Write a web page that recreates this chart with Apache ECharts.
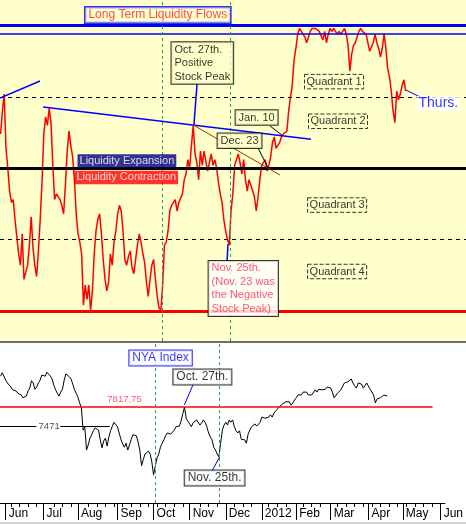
<!DOCTYPE html>
<html><head><meta charset="utf-8">
<script src="https://cdn.jsdelivr.net/npm/echarts@6/dist/echarts.min.js"></script>
<style>html,body{margin:0;padding:0;background:#fff}#c{width:466px;height:524px}</style>
</head><body><div id="c"></div>
<script>
// ---- axis / categories (trading-day index, 0 = 1 Jun 2011) ----
const monthNames = ['Jun','Jul','Aug','Sep','Oct','Nov','Dec','2012','Feb','Mar','Apr','May','Jun'];
const monthStartDay = [0,22,42,65,86,107,128,149,169,189,211,231,253];
const firstDay = -3;
const axisMin = -3.33, axisMax = 255.5;

// ---- Long Term Liquidity Flows (0..100 oscillator), one value per trading day ----
const liquidity = [
 62,70,76,57,50,42,38,39,32,26,
 20,16,27,11,11,16,23,33,22,16,
 12,21,32,45,62,68,65,71,66,51,
 39,41,41,39,37,34,44,56,63,58,
 54,46,34,27,24,20,2,9,4,9,
 0,7,20,28,32,34,27,18,11,7,
 10,20,16,24,28,34,37,35,28,18,
 16,19,21,15,13,18,23,27,24,20,
 17,10,5,11,16,18,11,5,1,0,
 9,23,24,28,35,37,37,39,35,38,
 38,41,46,48,53,50,58,65,55,52,
 46,56,51,56,56,49,52,55,51,53,
 50,45,41,38,32,28,25,23,35,41,
 51,51,55,52,48,53,46,42,46,44,
 42,40,35,40,46,51,51,53,49,51,
 54,59,61,57,58,59,61,62,62,63,
 70,75,79,88,92,97,99,98,98,96,
 94,96,98,99,99,99,99,98,98,95,
 98,94,97,99,98,99,98,97,98,97,
 98,99,97,93,84,90,93,94,96,98,
 99,98,98,97,94,91,91,94,97,94,
 92,89,92,97,92,85,82,77,70,66,
 77,74,76,79,81,77
];

// ---- NYA Index closes ----
const nyaIndex = [
 8360,8420,8450,8290,8240,8260,8170,8120,8130,8100,
 8060,8080,8030,7980,7960,8010,8100,8150,8280,8240,
 8130,8170,8240,8290,8380,8400,8360,8430,8450,8360,
 8310,8200,8120,8060,8010,8080,8130,8290,8400,8400,
 8350,8310,8220,8120,8060,7990,7890,7800,7410,7470,
 7060,7150,7270,7330,7400,7450,7470,7410,7240,7100,
 7220,7270,7130,7290,7400,7480,7550,7570,7470,7360,
 7250,7170,7110,7180,7060,7150,7250,7330,7330,7310,
 7200,7060,6780,6890,6990,6970,7040,6990,6850,6620,
 6780,6920,6990,7110,7180,7240,7310,7360,7330,7340,
 7310,7410,7470,7480,7480,7570,7700,7818,7610,7640,
 7520,7470,7540,7570,7590,7620,7500,7540,7590,7540,
 7470,7360,7290,7240,7110,7060,6990,6940,7180,7410,
 7500,7550,7500,7590,7550,7590,7470,7400,7360,7400,
 7250,7270,7240,7180,7340,7410,7470,7470,7520,7480,
 7500,7550,7640,7610,7620,7590,7640,7680,7640,7710,
 7730,7780,7820,7840,7870,7870,7910,7890,7910,7850,
 7890,7940,7980,8030,8050,8030,8080,8080,8080,8030,
 8060,8030,8060,8120,8080,8130,8150,8120,8130,8130,
 8170,8150,8150,8080,7980,7990,8060,8080,8120,8120,
 8240,8240,8260,8280,8310,8240,8190,8150,8240,8260,
 8220,8150,8130,8240,8240,8130,8100,8030,7890,7960,
 7990,7980,7990,8030,8060,8010
];

// ---- reference levels ----
const liqTop = 100, liqTopInner = 97, liqQ12 = 75, liqMid = 50, liqQ34 = 25, liqBottom = 0;
const nyaRef = 7817.75, nyaRefLabel = '7817.75';
const nyaSupport = 7471, nyaSupportLabel = '7471';
const markerDays = [86.7, 124.4];   // green dashed verticals (Oct low, Nov. 25th)

const FONT = "'Liberation Sans', Arial, sans-serif";
const liqData = liquidity.map((v, i) => [firstDay + i, v]);
const nyaData = nyaIndex.map((v, i) => [firstDay + i, v]);
const weekTicks = [];
for (let d = 3; d < axisMax; d += 5) {
  if (!monthStartDay.some(m => Math.abs(m - d) < 1.5)) weekTicks.push(d);
}

function box(x, y, text, o) {
  return {
    value: [x, y],
    label: Object.assign({
      show: true, position: [0, 0], align: 'left', verticalAlign: 'middle',
      formatter: text, fontSize: 11, fontFamily: FONT, color: '#000',
      lineHeight: 13.5, padding: [1, 3, 0, 3]
    }, o || {})
  };
}

const topAnn = [
  box(44.4, 103.6, 'Long Term Liquidity Flows', {fontSize:12, lineHeight:14, color:'#FF1A3C', backgroundColor:'#FFFFCC', borderColor:'#0000FF', borderWidth:1.5}),
  box(92.2, 86.7, 'Oct. 27th.\nPositive\nStock Peak', {backgroundColor:'#FFFFCC', borderColor:'#000', borderWidth:1}),
  box(127.8, 67.6, 'Jan. 10', {backgroundColor:'#FFFFCC', borderColor:'#000', borderWidth:1}),
  box(117.8, 59.5, 'Dec. 23', {backgroundColor:'#FFFFCC', borderColor:'#000', borderWidth:1}),
  box(166.1, 80.2, 'Quadrant 1', {borderColor:'#000', borderWidth:1, borderType:'dashed', padding:[1,2,0,2]}),
  box(168.3, 66.3, 'Quadrant 2', {borderColor:'#000', borderWidth:1, borderType:'dashed', padding:[1,2,0,2]}),
  box(167.8, 36.9, 'Quadrant 3', {borderColor:'#000', borderWidth:1, borderType:'dashed', padding:[1,2,0,2]}),
  box(167.8, 13.6, 'Quadrant 4', {borderColor:'#000', borderWidth:1, borderType:'dashed', padding:[1,2,0,2]}),
  box(40.0, 52.4, 'Liquidity Expansion', {color:'#fff', backgroundColor:'#000080', padding:[0,2,0,2]}),
  box(38.3, 46.6, 'Liquidity Contraction', {color:'#fff', backgroundColor:'#FF0000', padding:[0,2,0,2]}),
  box(112.8, 7.6, 'Nov. 25th.\n(Nov. 23 was\nthe Negative\nStock Peak)', {color:'#FF2A50', backgroundColor:'#fff', borderColor:'#000', borderWidth:1}),
  box(228.3, 72.5, 'Thurs.', {color:'#0000FF', backgroundColor:'#fff', fontSize:14, lineHeight:15, padding:[0,2,0,2]})
];
const botAnn = [
  box(72.2, 8671, 'NYA Index', {fontSize:12, lineHeight:14, color:'#0000FF', backgroundColor:'#fff', borderColor:'#0000FF', borderWidth:1}),
  box(97.8, 8337, 'Oct. 27th.', {fontSize:12, lineHeight:14, backgroundColor:'#fff', borderColor:'#000', borderWidth:1}),
  box(104.4, 6559, 'Nov. 25th.', {fontSize:12, lineHeight:14, backgroundColor:'#fff', borderColor:'#000', borderWidth:1}),
  box(59.4, 7941, nyaRefLabel, {color:'#FF2A50', fontSize:9.5, padding:0}),
  box(19.4, nyaSupport, nyaSupportLabel, {color:'#222', fontSize:9.5, padding:0})
];

function seg(x1, y1, x2, y2, color, width, type) {
  return [{coord:[x1,y1], lineStyle:{color:color, width:width||1, type:type||'solid'}}, {coord:[x2,y2]}];
}
function hline(y, color, width, type) {
  return {yAxis: y, lineStyle:{color:color, width:width, type:type||'solid'}};
}
const greenV = markerDays.map(d => ({xAxis: d, lineStyle:{color:'#22A060', width:1, type:[3,3]}}));

const chart = echarts.init(document.getElementById('c'), null, {renderer:'canvas'});
chart.setOption({
  animation: false,
  backgroundColor: '#fff',
  grid: [
    {left:0, right:0, top:0, height:341, show:true, backgroundColor:'#FFFFCC', borderWidth:0},
    {left:0, right:0, top:344, height:159, show:true, backgroundColor:'#fff', borderWidth:0}
  ],
  xAxis: [
    {type:'value', gridIndex:0, min:axisMin, max:axisMax, show:false},
    {type:'value', gridIndex:1, min:axisMin, max:axisMax, position:'bottom',
     axisLine:{show:true, onZero:false, lineStyle:{color:'#000', width:1}},
     axisTick:{show:true, customValues:monthStartDay, length:17, lineStyle:{color:'#000', width:1}},
     axisLabel:{show:true, customValues:monthStartDay, formatter:(v)=>monthNames[monthStartDay.indexOf(v)],
       align:'left', padding:[0,0,0,3], margin:5, color:'#000', fontSize:12, fontFamily:FONT},
     splitLine:{show:false}},
    {type:'value', gridIndex:1, min:axisMin, max:axisMax, position:'bottom',
     axisLine:{show:false}, axisLabel:{show:false}, splitLine:{show:false},
     axisTick:{show:true, customValues:weekTicks, length:4, lineStyle:{color:'#000', width:1}}}
  ],
  yAxis: [
    {type:'value', gridIndex:0, min:-10.6, max:109, show:false},
    {type:'value', gridIndex:1, min:6128, max:8926.5, show:false}
  ],
  graphic: [
    {type:'rect', shape:{x:0, y:341, width:466, height:2}, style:{fill:'#6E6E6E'}, z:100},
    {type:'rect', shape:{x:0, y:522, width:466, height:2}, style:{fill:'#D4D4D4'}, z:100}
  ],
  series: [
    {type:'line', xAxisIndex:0, yAxisIndex:0, data:[], silent:true,
     markLine:{symbol:'none', silent:true, label:{show:false}, animation:false,
       data:[
         hline(liqTop, '#0000FF', 3),
         hline(liqTopInner, '#0000FF', 1.5),
         hline(liqQ12, '#000', 1, [4,4]),
         hline(liqMid, '#000', 3),
         hline(liqQ34, '#000', 1, [4,4]),
         hline(liqBottom, '#FF0000', 3)
       ].concat(greenV)}},
    {type:'line', xAxisIndex:0, yAxisIndex:0, data:liqData, showSymbol:false, symbol:'none',
     lineStyle:{color:'#FF0000', width:1.5}, z:3},
    {type:'line', xAxisIndex:0, yAxisIndex:0, data:[], silent:true, z:4,
     markLine:{symbol:'none', silent:true, label:{show:false}, animation:false,
       data:[
         seg(-3.33, 74.6, 18.9, 80.6, '#0000FF', 1.5),
         seg(20.6, 71.5, 169.4, 60.2, '#0000FF', 1.5),
         seg(103.9, 65.2, 152.2, 47.6, '#993311', 1),
         seg(104.4, 65.2, 106.1, 79.5, '#0000FF', 1.5),
         seg(123.3, 23.4, 122.8, 17.4, '#0000FF', 1.5),
         seg(222.2, 77.4, 230, 75, '#0000FF', 1),
         seg(146.7, 64.8, 153.3, 61.6, '#000', 1),
         seg(140, 57.1, 145.6, 50.1, '#000', 1)
       ]}},
    {type:'line', xAxisIndex:1, yAxisIndex:1, data:[], silent:true,
     markLine:{symbol:'none', silent:true, label:{show:false}, animation:false,
       data:[
         seg(axisMin, nyaRef, 248.3, nyaRef, '#FF0000', 1.5),
         seg(axisMin, nyaSupport, 17.8, nyaSupport, '#000', 1),
         seg(31.7, nyaSupport, 60.5, nyaSupport, '#000', 1),
         seg(109.4, 8240, 103.9, 7853, '#0000FF', 1),
         seg(124.4, 6938, 120, 6691, '#0000FF', 1)
       ].concat(greenV)}},
    {type:'line', xAxisIndex:1, yAxisIndex:1, data:nyaData, showSymbol:false, symbol:'none',
     lineStyle:{color:'#000', width:1}, z:3},
    {type:'scatter', xAxisIndex:0, yAxisIndex:0, data:topAnn, symbolSize:1,
     itemStyle:{color:'rgba(0,0,0,0)'}, silent:true, z:10},
    {type:'scatter', xAxisIndex:1, yAxisIndex:1, data:botAnn, symbolSize:1,
     itemStyle:{color:'rgba(0,0,0,0)'}, silent:true, z:10}
  ]
});
</script></body></html>
